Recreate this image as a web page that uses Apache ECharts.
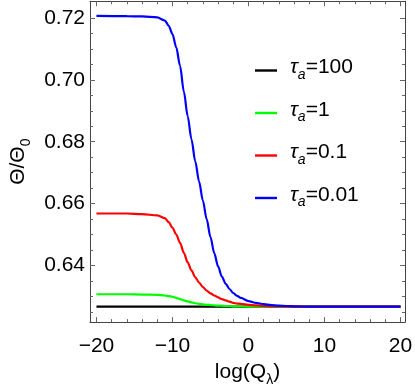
<!DOCTYPE html>
<html>
<head>
<meta charset="utf-8">
<script src="https://cdn.jsdelivr.net/npm/echarts@6/dist/echarts.min.js"></script>
<style>
html,body{margin:0;padding:0;background:#fff;}
#c{width:415px;height:392px;}
</style>
</head>
<body>
<div id="c"></div>
<script>
// ---- data ----
const xs     = [-20,    -16,    -14,    -12,    -11,    -10.5,  -10,    -9.5,   -9,     -8.5,   -8,     -7.5,   -7,     -6.5,   -6,     -5.5,   -5,     -4.5,   -4,     -3.5,   -3,     -2.5,   -2,     -1.5,   -1,     0,      1,      2,      3,      4,      5,      6,      8,      10,     15,     20];
const tau100 = [0.6267, 0.6267, 0.6267, 0.6267, 0.6267, 0.6267, 0.6267, 0.6267, 0.6267, 0.6267, 0.6267, 0.6267, 0.6267, 0.6267, 0.6267, 0.6267, 0.6267, 0.6267, 0.6267, 0.6267, 0.6267, 0.6267, 0.6267, 0.6267, 0.6267, 0.6267, 0.6267, 0.6267, 0.6267, 0.6267, 0.6267, 0.6267, 0.6267, 0.6267, 0.6267, 0.6267];
const tau1   = [0.6307, 0.6307, 0.6306, 0.6305, 0.6303, 0.6301, 0.6299, 0.6295, 0.6291, 0.6287, 0.6284, 0.6281, 0.6278, 0.6276, 0.6274, 0.6273, 0.6272, 0.6271, 0.6270, 0.6270, 0.6269, 0.6269, 0.6268, 0.6268, 0.6268, 0.6267, 0.6267, 0.6267, 0.6267, 0.6267, 0.6267, 0.6267, 0.6267, 0.6267, 0.6267, 0.6267];
const tau01  = [0.6568, 0.6568, 0.6566, 0.6562, 0.6553, 0.6540, 0.6522, 0.6500, 0.6473, 0.6441, 0.6410, 0.6384, 0.6362, 0.6345, 0.6330, 0.6319, 0.6310, 0.6303, 0.6297, 0.6291, 0.6287, 0.6283, 0.6279, 0.6277, 0.6276, 0.6273, 0.6271, 0.6269, 0.6268, 0.6268, 0.6267, 0.6267, 0.6267, 0.6267, 0.6267, 0.6267];
const tau001 = [0.7207, 0.7206, 0.7205, 0.7202, 0.7192, 0.7175, 0.7148, 0.7105, 0.7045, 0.6962, 0.6883, 0.6808, 0.6737, 0.6672, 0.6610, 0.6550, 0.6492, 0.6440, 0.6397, 0.6364, 0.6341, 0.6324, 0.6311, 0.6302, 0.6295, 0.6285, 0.6279, 0.6275, 0.6272, 0.6270, 0.6269, 0.6268, 0.6267, 0.6267, 0.6267, 0.6267];
const seriesNames = ['τa=100', 'τa=1', 'τa=0.1', 'τa=0.01'];
const seriesValues = [tau100, tau1, tau01, tau001];
const seriesColors = ['#000000', '#00ff00', '#ff0000', '#0000ff'];
const xMajor = [-20, -10, 0, 10, 20];
const xMinor = [-18,-16,-14,-12,-8,-6,-4,-2,2,4,6,8,12,14,16,18];
const yMajor = [0.64, 0.66, 0.68, 0.70, 0.72];
const yMinor = [0.625,0.63,0.635,0.645,0.65,0.655,0.665,0.67,0.675,0.685,0.69,0.695,0.705,0.71,0.715];

const FONT = 'Liberation Sans';
const xMin = -20.85, xMax = 20.6, yMin = 0.6217, yMax = 0.7254;
const frameColor = '#444';
const tickColor = '#666';

function xAxisDef(pos, vals, len, showLine, showLabel, extra) {
  return Object.assign({
    type: 'value', position: pos, min: xMin, max: xMax,
    axisLine: {show: showLine, onZero: false, lineStyle: {color: frameColor, width: 1}},
    axisTick: {show: true, inside: true, length: len, customValues: vals, lineStyle: {color: tickColor, width: 1}},
    axisLabel: {show: showLabel, customValues: vals, color: '#000', fontFamily: FONT, fontSize: 21, margin: 14,
      formatter: v => (v < 0 ? '\u2212' + Math.abs(v) : String(v))},
    splitLine: {show: false}
  }, extra || {});
}
function yAxisDef(pos, vals, len, showLine, showLabel, extra) {
  return Object.assign({
    type: 'value', position: pos, min: yMin, max: yMax,
    axisLine: {show: showLine, onZero: false, lineStyle: {color: frameColor, width: 1}},
    axisTick: {show: true, inside: true, length: len, customValues: vals, lineStyle: {color: tickColor, width: 1}},
    axisLabel: {show: showLabel, customValues: vals, color: '#000', fontFamily: FONT, fontSize: 21, margin: 5,
      formatter: v => v.toFixed(2)},
    splitLine: {show: false}
  }, extra || {});
}

const chart = echarts.init(document.getElementById('c'), null, {renderer: 'canvas'});
chart.setOption({
  animation: false,
  backgroundColor: '#fff',
  grid: {left: 80, right: 8.5, top: 1.3, bottom: 64.5, containLabel: false},
  xAxis: [
    xAxisDef('bottom', xMajor, 5, true, true, {
      name: '{t|log(Q}{s|λ}{t|)}', nameLocation: 'middle', nameGap: 39,
      nameTextStyle: {rich: {
        t: {fontFamily: FONT, fontSize: 21, color: '#000', padding: [0,0,4,0], verticalAlign: 'bottom'},
        s: {fontFamily: FONT, fontSize: 14, color: '#000', verticalAlign: 'bottom'}
      }}
    }),
    xAxisDef('bottom', xMinor, 3, false, false),
    xAxisDef('top', xMajor, 5, true, false),
    xAxisDef('top', xMinor, 3, false, false)
  ],
  yAxis: [
    yAxisDef('left', yMajor, 5, true, true, {
      name: '{t|Θ/Θ}{s|0}', nameLocation: 'middle', nameRotate: 90, nameGap: 57,
      nameTextStyle: {rich: {
        t: {fontFamily: FONT, fontSize: 21, color: '#000', padding: [0,0,4,0], verticalAlign: 'bottom'},
        s: {fontFamily: FONT, fontSize: 14, color: '#000', verticalAlign: 'bottom'}
      }}
    }),
    yAxisDef('left', yMinor, 3, false, false),
    yAxisDef('right', yMajor, 5, true, false),
    yAxisDef('right', yMinor, 3, false, false)
  ],
  legend: {
    orient: 'vertical', left: 250, top: 52,
    itemWidth: 22, itemHeight: 2.4, itemGap: 17.5, icon: 'rect',
    data: seriesNames,
    formatter: name => '{i|τ}{a|a}{t|' + name.slice(2) + '}',
    textStyle: {
      padding: [0,0,0,8],
      rich: {
        i: {fontFamily: FONT, fontSize: 21, fontStyle: 'italic', color: '#000', padding: [0,0,4,0], verticalAlign: 'bottom', lineHeight: 23},
        a: {fontFamily: FONT, fontSize: 14, fontStyle: 'italic', color: '#000', verticalAlign: 'bottom', lineHeight: 14},
        t: {fontFamily: FONT, fontSize: 21, color: '#000', padding: [0,0,4,0], verticalAlign: 'bottom', lineHeight: 23}
      }
    }
  },
  series: seriesNames.map((n, i) => ({
    name: n, type: 'line', xAxisIndex: 0, yAxisIndex: 0,
    data: xs.map((x, k) => [x, seriesValues[i][k]]),
    smooth: 0.3, smoothMonotone: 'x', showSymbol: false, symbol: 'none',
    lineStyle: {color: seriesColors[i], width: 2.2},
    itemStyle: {color: seriesColors[i]},
    z: 2 + i
  }))
});
</script>
</body>
</html>
